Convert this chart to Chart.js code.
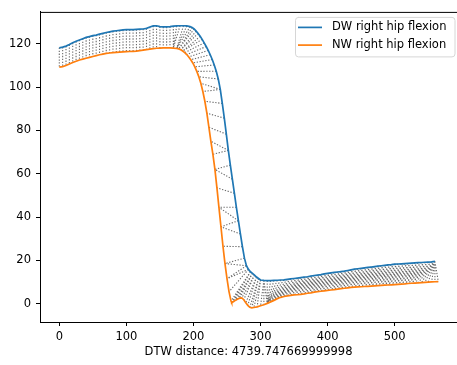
<!DOCTYPE html>
<html><head><meta charset="utf-8">
<script src="https://cdn.jsdelivr.net/npm/chart.js@4.4.1/dist/chart.umd.min.js"></script>
<style>html,body{margin:0;padding:0;background:#fff;overflow:hidden}canvas{display:block}</style>
</head><body>
<canvas id="c" width="457" height="365"></canvas>
<script>
// ---- data ----
const seriesLabels = ['DW right hip flexion', 'NW right hip flexion'];
const xLabel = 'DTW distance: 4739.747669999998';
const xTickVals = [0, 100, 200, 300, 400, 500];
const yTickVals = [0, 20, 40, 60, 80, 100, 120];

const dwIdx = [0,5,10,15,20,25,30,35,40,45,50,55,60,65,70,75,80,85,90,95,100,105,110,115,120,125,130,135,140,145,150,155,160,165,170,175,180,185,190,195,
  198,201,204,207,210,213,216,219,222,225,228,231,234,237,240,243,246,249,252,255,258,261,264,267,270,273,276,279,282,285,288,291,294,297,
  300,305,310,315,320,325,330,335,340,345,350,355,360,365,370,375,380,385,390,395,400,405,410,415,420,425,430,435,440,445,450,455,460,465,470,475,480,485,490,495,500,505,510,515,520,525,530,535,540,545,550,555,560];
const dwVal = [118.2,118.5,119.0,119.7,120.5,121.2,121.8,122.4,123.0,123.4,123.8,124.1,124.5,124.9,125.3,125.6,125.9,126.1,126.3,126.5,126.6,126.6,126.6,126.7,126.8,126.9,127.2,127.8,128.3,128.4,128.0,127.9,127.9,128.0,128.2,128.3,128.4,128.4,128.3,128.0,
  127.6,126.9,125.9,124.8,123.5,122.1,120.5,118.8,117.0,115.0,112.8,110.3,107.4,103.8,99.0,92.5,85.7,78.3,70.8,64.0,57.5,51.0,44.5,38.3,32.2,26.3,21.0,17.5,15.8,14.7,14.0,13.2,12.3,11.6,
  10.9,10.7,10.6,10.6,10.7,10.8,10.9,11.0,11.2,11.4,11.6,11.8,12.0,12.2,12.4,12.7,13.0,13.2,13.4,13.7,14.0,14.2,14.4,14.6,14.8,15.0,15.3,15.6,15.9,16.1,16.3,16.5,16.7,16.9,17.1,17.3,17.5,17.7,17.9,18.0,18.2,18.3,18.4,18.5,18.6,18.7,18.8,18.9,19.0,19.1,19.2,19.3,19.5];

const nwIdx = [0,5,10,15,20,25,30,35,40,45,50,55,60,65,70,75,80,85,90,95,100,105,110,115,120,125,130,135,140,145,150,155,160,165,170,175,
  178,181,184,187,190,193,196,199,202,205,208,211,214,217,220,223,226,229,232,235,238,241,244,247,250,253,256,257,
  260,263,266,269,272,275,278,281,284,287,290,
  295,300,305,310,315,320,325,330,335,340,345,350,355,360,365,370,375,380,385,390,395,400,405,410,415,420,425,430,435,440,445,450,455,460,465,470,475,480,485,490,495,500,505,510,515,520,525,530,535,540,545,550,555,560,565];
const nwVal = [109.3,109.5,110.0,110.7,111.4,112.0,112.6,113.0,113.4,113.8,114.2,114.6,115.0,115.3,115.6,115.8,116.0,116.1,116.2,116.3,116.4,116.5,116.6,116.7,116.9,117.1,117.4,117.6,117.8,118.0,118.1,118.2,118.2,118.2,118.1,117.9,
  117.7,117.3,116.7,116.0,115.1,114.0,112.7,111.2,109.4,107.3,104.8,101.8,98.0,93.5,88.0,81.5,75.0,69.0,62.0,53.5,44.5,35.5,26.5,18.5,11.5,5.5,1.2,0.4,
  1.0,1.6,2.1,2.5,2.6,1.8,0.4,-0.8,-1.7,-2.0,-1.8,
  -1.5,-1.0,-0.5,0.1,0.8,1.5,2.3,2.9,3.3,3.6,3.8,4.0,4.1,4.3,4.5,4.8,5.0,5.3,5.5,5.7,5.9,6.1,6.3,6.5,6.7,6.9,7.1,7.3,7.5,7.6,7.7,7.8,7.9,8.0,8.1,8.2,8.3,8.4,8.5,8.6,8.7,8.8,8.9,9.0,9.1,9.3,9.4,9.5,9.6,9.7,9.8,9.9,10.0,10.1,10.2];

// warping path: [DW index, NW index]
const warpPath = [[0,0],[5,5],[10,10],[15,15],[20,20],[25,25],[30,30],[35,35],[40,40],[45,45],[50,50],[55,55],[60,60],[65,65],[70,70],[75,75],[80,80],[85,85],[90,90],[95,95],[100,100],[105,105],[110,110],[115,115],[120,120],[125,125],[130,130],[135,135],[140,140],[145,145],
  [150,150],[155,155],[160,160],[165,165],[170,170],[175,170],[180,170],[185,175],[190,175],[195,175],
  [198,178],[201,178],[204,181],[207,181],[210,184],[213,184],[216,187],[219,190],[222,193],[225,196],[228,199],[231,202],[234,205],[237,208],[240,211],[240,214],[243,217],[246,220],[249,223],[252,226],[252,229],[255,232],[258,232],[261,235],[264,238],[267,238],[267,241],[270,241],[273,244],[276,247],[279,247],[279,250],[282,250],[282,253],[285,256],[285,257],[285,260],[288,263],[288,266],[288,269],[291,272],[291,275],[294,278],[294,281],[297,284],[297,287],[300,290],[300,295],[305,300],[305,305],[305,310],[310,310],[315,310],[320,310],[325,310],[330,310],[335,310],[340,310],[345,310],
  [345,315],[350,315],[350,320],[355,320],[355,325],[360,325],[360,330],[365,330],[365,335],[370,335],[370,340],[375,340],[375,345],[380,345],[380,350],[385,350],[385,355],[390,355],[390,360],[395,360],[395,365],[400,365],[400,370],[405,370],[405,375],[410,375],[410,380],[415,380],[415,385],[420,385],[420,390],[425,390],[425,395],[430,395],[430,400],[435,400],[435,405],[440,405],[440,410],[445,410],[445,415],[450,415],[450,420],[455,420],[455,425],[460,425],[460,430],[465,430],[465,435],[470,435],[470,440],[475,440],[475,445],[480,445],[480,450],[485,450],[485,455],[490,455],[490,460],[495,460],[495,465],[500,465],[500,470],[505,470],[505,475],[510,475],[510,480],[515,480],[515,485],[520,485],[520,490],[525,490],[525,495],[530,495],[530,500],[535,500],[535,505],[540,505],[540,510],[545,510],[545,515],[550,515],[550,520],[555,520],[555,525],[560,525],[560,530],[560,535],[560,540],[560,545],[560,550],[560,555],[560,560],[560,565]];

// ---- build library data ----
const dwPoints = dwIdx.map((x, i) => ({x, y: dwVal[i]}));
const nwPoints = nwIdx.map((x, i) => ({x, y: nwVal[i]}));
const dwMap = new Map(dwIdx.map((x, i) => [x, dwVal[i]]));
const nwMap = new Map(nwIdx.map((x, i) => [x, nwVal[i]]));
const warpPoints = [];
warpPath.forEach(([a, b]) => {
  warpPoints.push({x: a, y: dwMap.get(a)});
  warpPoints.push({x: b, y: nwMap.get(b)});
  warpPoints.push({x: b, y: null});
});

const FONT = {family: "'DejaVu Sans', sans-serif", size: 11.5};
const colors = ['#1f77b4', '#ff7f0e'];

const spinePlugin = {
  id: 'topSpine',
  afterDraw(chart) {
    const {ctx, chartArea} = chart;
    ctx.save();
    ctx.strokeStyle = '#000';
    ctx.lineWidth = 1;
    ctx.beginPath();
    ctx.moveTo(chartArea.left, chartArea.top + 0.5);
    ctx.lineTo(chartArea.right, chartArea.top + 0.5);
    ctx.stroke();
    ctx.restore();
  }
};

const legendPlugin = {
  id: 'mplLegend',
  afterDatasetsDraw(chart) {
    const {ctx, chartArea} = chart;
    const right = chartArea.right - 2, top = chartArea.top + 5;
    const w = 160, h = 40, left = right - w;
    ctx.save();
    ctx.beginPath();
    const r = 3;
    ctx.moveTo(left + r, top + 0.5);
    ctx.arcTo(right, top + 0.5, right, top + h, r);
    ctx.arcTo(right, top + h, left, top + h, r);
    ctx.arcTo(left + 0.5, top + h, left + 0.5, top, r);
    ctx.arcTo(left + 0.5, top + 0.5, right, top + 0.5, r);
    ctx.closePath();
    ctx.fillStyle = 'rgba(255,255,255,0.8)';
    ctx.fill();
    ctx.strokeStyle = '#d6d6d6';
    ctx.lineWidth = 1;
    ctx.stroke();
    ctx.font = `${FONT.size}px ${FONT.family}`;
    ctx.textBaseline = 'middle';
    ctx.textAlign = 'left';
    seriesLabels.forEach((lab, i) => {
      const y = top + 10.5 + i * 17.7;
      ctx.strokeStyle = colors[i];
      ctx.lineWidth = 1.7;
      ctx.beginPath();
      ctx.moveTo(left + 3, y);
      ctx.lineTo(left + 27, y);
      ctx.stroke();
      ctx.fillStyle = '#000';
      ctx.fillText(lab, left + 37, y);
    });
    ctx.restore();
  }
};

new Chart(document.getElementById('c'), {
  type: 'scatter',
  data: {
    datasets: [
      {label: seriesLabels[0], data: dwPoints, showLine: true, borderColor: colors[0], backgroundColor: colors[0], borderWidth: 1.7, pointRadius: 0, order: 1},
      {label: seriesLabels[1], data: nwPoints, showLine: true, borderColor: colors[1], backgroundColor: colors[1], borderWidth: 1.7, pointRadius: 0, order: 0},
      {label: 'warp', data: warpPoints, showLine: true, borderColor: '#6a6a6a', borderWidth: 1.1, borderDash: [1.3, 1.6], pointRadius: 0, spanGaps: false, order: 2}
    ]
  },
  options: {
    responsive: false,
    animation: false,
    devicePixelRatio: 1,
    events: [],
    layout: {padding: {top: 10, right: 0, left: 0, bottom: 0}},
    plugins: {legend: {display: false}, tooltip: {enabled: false}},
    scales: {
      x: {
        type: 'linear', min: -28.77, max: 592.9,
        afterBuildTicks(s) { s.ticks = xTickVals.map(v => ({value: v})); },
        afterFit(s) { s.height = 43; },
        ticks: {font: FONT, color: '#000', padding: 4, maxRotation: 0, autoSkip: false, callback: v => String(v)},
        grid: {drawOnChartArea: false, drawTicks: true, tickLength: 4, tickColor: '#000', tickWidth: 1},
        border: {display: true, color: '#000', width: 1},
        title: {display: true, text: xLabel, font: FONT, color: '#000', padding: {top: 0, bottom: 6}}
      },
      y: {
        type: 'linear', min: -8.5, max: 134.8,
        afterBuildTicks(s) { s.ticks = yTickVals.map(v => ({value: v})); },
        afterFit(s) { s.width = 40; },
        ticks: {font: FONT, color: '#000', padding: 5, autoSkip: false, callback: v => String(v)},
        grid: {drawOnChartArea: false, drawTicks: true, tickLength: 4, tickColor: '#000', tickWidth: 1},
        border: {display: true, color: '#000', width: 1}
      }
    }
  },
  plugins: [spinePlugin, legendPlugin]
});
</script></body></html>
